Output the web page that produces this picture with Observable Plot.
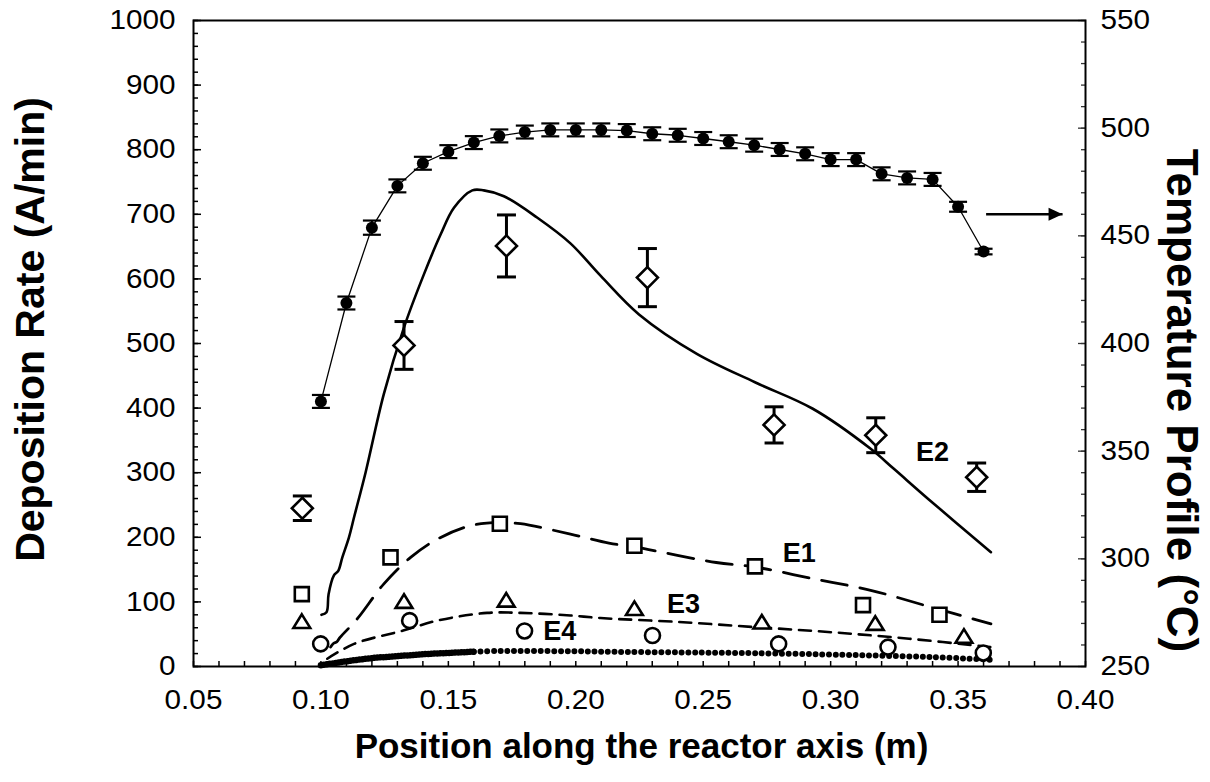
<!DOCTYPE html>
<html><head><meta charset="utf-8">
<script src="https://cdn.jsdelivr.net/npm/d3@7"></script>
<script src="https://cdn.jsdelivr.net/npm/@observablehq/plot@0.6"></script>
<style>body{margin:0;background:#fff}</style>
</head><body><div id="chart"></div>
<script>
// ---- data ----
const xMajor = [0.05, 0.10, 0.15, 0.20, 0.25, 0.30, 0.35, 0.40];
const yMajor = [0, 100, 200, 300, 400, 500, 600, 700, 800, 900, 1000];
const tMajor = [250, 300, 350, 400, 450, 500, 550];

const tempX = [0.10,0.11,0.12,0.13,0.14,0.15,0.16,0.17,0.18,0.19,0.20,0.21,0.22,0.23,0.24,0.25,0.26,0.27,0.28,0.29,0.30,0.31,0.32,0.33,0.34,0.35,0.36];
const tempC = [373.1,418.8,453.8,473.2,483.7,489.1,493.3,496.4,498.2,499.2,499.2,499.2,498.9,497.4,496.7,495.2,493.7,492.1,490.1,488.1,485.4,485.4,478.8,476.9,476.2,463.5,442.7];
const tempErr = [3,3,3.3,3,3,3,3,3,3,3,3,3,3,3,3,3,3,3,3,3,3,3,3,3,3,2.3,1.3];

const e2ExpX = [0.0927,0.1326,0.1728,0.2281,0.2778,0.3177,0.3573];
const e2ExpY = [245,497,651,602,374,358,293];
const e2ExpErr = [19,37,48,45,28,27,22];
const e1ExpX = [0.0925,0.1273,0.1702,0.2230,0.2703,0.3127,0.3427];
const e1ExpY = [112,169,221,187,155,95,80];
const e3ExpX = [0.0925,0.1326,0.1727,0.2230,0.2730,0.3175,0.3523];
const e3ExpY = [69,100,102,89,68,66,46];
const e4ExpX = [0.0999,0.1348,0.1799,0.2301,0.2796,0.3225,0.3599];
const e4ExpY = [35,71,55,48,35,30,21];

const e2X = [0.1002,0.1022,0.1030,0.1051,0.1068,0.1084,0.1110,0.1130,0.1175,0.1247,0.1326,0.1404,0.1470,0.1522,0.1594,0.1639,0.1718,0.1848,0.1979,0.2097,0.2248,0.2475,0.2703,0.2930,0.3157,0.3248,0.3384,0.3629];
const e2Y = [80,84,112,141,148,169,200,231,300,422,525,607,669,710,737,737,728,695,655,605,545,484,440,399,337,306,259,177];
const e1X = [0.1038,0.1050,0.1062,0.1075,0.1143,0.1247,0.1352,0.1456,0.1587,0.1702,0.1783,0.1979,0.2130,0.2230,0.2551,0.2703,0.2930,0.3157,0.3384,0.3629];
const e1Y = [30,36,38,45,74,128,169,197,218,223,221,205,191,185,161,154,136,118,93,66];
const e3X = [0.1025,0.1130,0.1326,0.1456,0.1652,0.1783,0.1979,0.2097,0.2400,0.2703,0.3005,0.3308,0.3629];
const e3Y = [12,35,56,71,83,83,79,75,69,61,53,43,30];
const e4X = [0.100,0.105,0.110,0.120,0.130,0.140,0.150,0.160,0.170,0.180,0.200,0.220,0.250,0.270,0.300,0.316,0.340,0.363];
const e4Y = [2,5,8,13,16,19,21,23,24,24,23.5,22.5,21.5,20.6,18.5,17,14.5,10.5];

const seriesLabels = [
  {x: 0.340, y: 331, text: "E2"},
  {x: 0.2877, y: 175, text: "E1"},
  {x: 0.2423, y: 96, text: "E3"},
  {x: 0.1937, y: 54, text: "E4"}
];
const arrowSpec = {x1: 0.361, x2: 0.391, t: 460};

// ---- helpers ----
const toLeft = t => (t - 250) * 1000 / 300;
const fromLeft = v => 250 + v * 300 / 1000;
const xMinor = d3.range(5, 41).map(d => d / 100);
const yMinor = d3.range(0, 1001, 20);
const tMinor = d3.range(250, 551, 10);

const pts = (xs, ys) => xs.map((x, i) => ({x, y: ys[i]}));
const temp = tempX.map((x, i) => ({x, y: toLeft(tempC[i]), lo: toLeft(tempC[i] - tempErr[i]), hi: toLeft(tempC[i] + tempErr[i])}));
const e2Exp = e2ExpX.map((x, i) => ({x, y: e2ExpY[i], lo: e2ExpY[i] - e2ExpErr[i], hi: e2ExpY[i] + e2ExpErr[i]}));
const e4All = pts(e4X, e4Y);
const e4Dense = e4All.filter(d => d.x <= 0.16);
const e4Sparse = e4All.filter(d => d.x >= 0.16);
const arrowData = [{x1: arrowSpec.x1, x2: arrowSpec.x2, y: toLeft(arrowSpec.t)}];

const sym = f => ({draw(ctx, size) { f(ctx, Math.sqrt(size / Math.PI)); }});
const diamondSym = sym((c, r) => { c.moveTo(0, -r); c.lineTo(r, 0); c.lineTo(0, r); c.lineTo(-r, 0); c.closePath(); });
const squareSym = sym((c, r) => { c.moveTo(-r, -r); c.lineTo(r, -r); c.lineTo(r, r); c.lineTo(-r, r); c.closePath(); });
const triSym = sym((c, r) => { c.moveTo(0, -r * 0.95); c.lineTo(r * 1.05, r * 0.75); c.lineTo(-r * 1.05, r * 0.75); c.closePath(); });
const capSym = sym((c, r) => { c.moveTo(-r, 0); c.lineTo(r, 0); });
const headSym = sym((c, r) => { c.moveTo(0, 0); c.lineTo(-14, -6.5); c.lineTo(-14, 6.5); c.closePath(); });

const FONT = "'Liberation Sans', Arial, Helvetica, sans-serif";
const blank = () => "";

const chart = Plot.plot({
  width: 1210, height: 782,
  marginLeft: 193, marginRight: 125, marginTop: 20, marginBottom: 116,
  x: {domain: [0.05, 0.40], label: null},
  y: {domain: [0, 1000], label: null},
  style: {fontFamily: FONT, background: "white", color: "black"},
  marks: [
    // axes (ticks inside)
    Plot.axisX(xMinor, {anchor: "bottom", tickSize: -5, tickFormat: blank, label: null, strokeWidth: 1.5}),
    Plot.axisX(xMajor, {anchor: "bottom", tickSize: 0, tickPadding: 23, tickFormat: d3.format(".2f"), fontSize: 27, label: null}),
    Plot.axisY(yMinor, {anchor: "left", tickSize: -5, tickFormat: blank, label: null, strokeWidth: 1.5}),
    Plot.axisY(yMajor, {anchor: "left", tickSize: -8, tickFormat: blank, label: null, strokeWidth: 1.5}),
    Plot.axisY(yMajor, {anchor: "left", tickSize: 0, tickPadding: 18, tickFormat: d => String(d), fontSize: 27, label: null}),
    Plot.axisY(tMinor.map(toLeft), {anchor: "right", tickSize: -5, tickFormat: blank, label: null, strokeWidth: 1.3, stroke: "#333"}),
    Plot.axisY(tMajor.map(toLeft), {anchor: "right", tickSize: -8, tickFormat: blank, label: null, strokeWidth: 1.3, stroke: "#333"}),
    Plot.axisY(tMajor.map(toLeft), {anchor: "right", tickSize: 0, tickPadding: 15, tickFormat: d => String(Math.round(fromLeft(d))), fontSize: 27, label: null}),
    Plot.frame({stroke: "black", strokeWidth: 2}),

    // titles
    Plot.text(["Deposition Rate (A/min)"], {frameAnchor: "left", textAnchor: "middle", lineAnchor: "middle", rotate: -90, dx: -163, dy: -14, fontSize: 41, fontWeight: "bold"}),
    Plot.text(["Temperature Profile (°C)"], {frameAnchor: "right", textAnchor: "middle", lineAnchor: "middle", rotate: 90, dx: 96, dy: 57, fontSize: 44, fontWeight: "bold"}),
    Plot.text(["Position along the reactor axis (m)"], {frameAnchor: "bottom", textAnchor: "middle", lineAnchor: "middle", dx: 2, dy: 80, fontSize: 35, fontWeight: "bold"}),

    // model curves
    Plot.line(pts(e2X, e2Y), {x: "x", y: "y", stroke: "black", strokeWidth: 2.6, curve: "catmull-rom"}),
    Plot.line(pts(e1X, e1Y), {x: "x", y: "y", stroke: "black", strokeWidth: 2.8, strokeDasharray: "26 13", curve: "catmull-rom"}),
    Plot.line(pts(e3X, e3Y), {x: "x", y: "y", stroke: "black", strokeWidth: 2.6, strokeDasharray: "12 8", curve: "catmull-rom"}),
    Plot.line(e4Dense, {x: "x", y: "y", stroke: "black", strokeWidth: 6.5, strokeLinecap: "round", strokeDasharray: "0 3", curve: "catmull-rom"}),
    Plot.line(e4Sparse, {x: "x", y: "y", stroke: "black", strokeWidth: 6, strokeLinecap: "round", strokeDasharray: "0 6.7", curve: "catmull-rom"}),

    // temperature profile
    Plot.line(temp, {x: "x", y: "y", stroke: "black", strokeWidth: 1.3}),
    Plot.ruleX(temp, {x: "x", y1: "lo", y2: "hi", stroke: "black", strokeWidth: 2}),
    Plot.dot(temp, {x: "x", y: "lo", symbol: capSym, r: 9, stroke: "black", fill: "none", strokeWidth: 2.2}),
    Plot.dot(temp, {x: "x", y: "hi", symbol: capSym, r: 9, stroke: "black", fill: "none", strokeWidth: 2.2}),
    Plot.dot(temp, {x: "x", y: "y", r: 6, fill: "black", stroke: "none"}),

    // experimental E2 with error bars
    Plot.ruleX(e2Exp, {x: "x", y1: "lo", y2: "hi", stroke: "black", strokeWidth: 3}),
    Plot.dot(e2Exp, {x: "x", y: "lo", symbol: capSym, r: 9.5, stroke: "black", fill: "none", strokeWidth: 3}),
    Plot.dot(e2Exp, {x: "x", y: "hi", symbol: capSym, r: 9.5, stroke: "black", fill: "none", strokeWidth: 3}),
    Plot.dot(e2Exp, {x: "x", y: "y", symbol: diamondSym, r: 10.5, fill: "white", stroke: "black", strokeWidth: 2.6}),

    // experimental E1, E3, E4
    Plot.dot(pts(e1ExpX, e1ExpY), {x: "x", y: "y", symbol: squareSym, r: 7, fill: "white", stroke: "black", strokeWidth: 2.6}),
    Plot.dot(pts(e3ExpX, e3ExpY), {x: "x", y: "y", symbol: triSym, r: 8, fill: "white", stroke: "black", strokeWidth: 2.6}),
    Plot.dot(pts(e4ExpX, e4ExpY), {x: "x", y: "y", r: 7.5, fill: "white", stroke: "black", strokeWidth: 2.6}),

    // series labels
    Plot.text(seriesLabels, {x: "x", y: "y", text: "text", fontSize: 27, fontWeight: "bold"}),

    // arrow toward right axis
    Plot.link(arrowData, {x1: "x1", x2: "x2", y1: "y", y2: "y", stroke: "black", strokeWidth: 2.5}),
    Plot.dot(arrowData, {x: "x2", y: "y", symbol: headSym, r: 5, fill: "black", stroke: "none"})
  ]
});

// widen tick label glyphs slightly, about each label's anchor
chart.querySelectorAll('g[aria-label$="tick label"] text').forEach(t => {
  const tr = t.getAttribute("transform");
  if (tr) t.setAttribute("transform", tr + " scale(1.1,1)");
});
document.getElementById("chart").appendChild(chart);
</script>
</body></html>
